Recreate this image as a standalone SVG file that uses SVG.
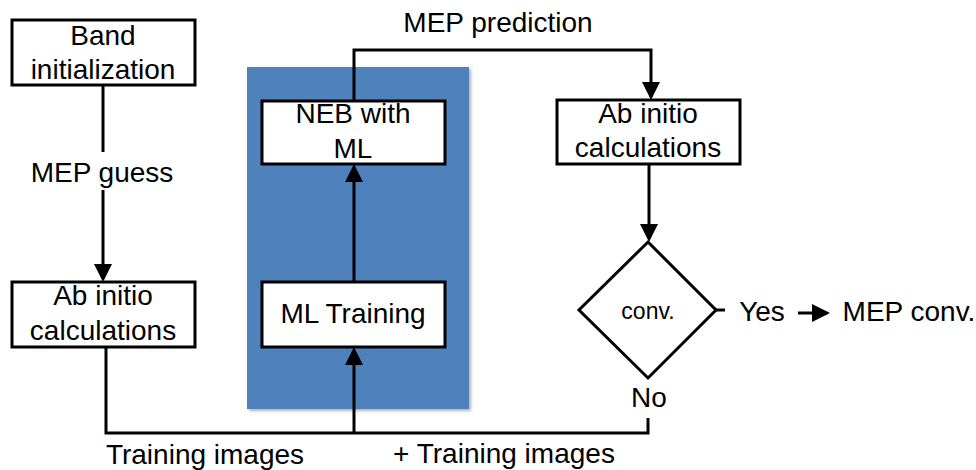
<svg xmlns="http://www.w3.org/2000/svg" width="976" height="470" viewBox="0 0 976 470">
<style>
text{font-family:"Liberation Sans",Arial,sans-serif;font-size:28px;fill:#000;text-anchor:middle}
.box{fill:#fff;stroke:#000;stroke-width:3}
.ln{fill:none;stroke:#000;stroke-width:3}
.sm{font-size:23px}
</style>
<defs>
<marker id="ah" markerWidth="6" markerHeight="6" refX="5" refY="3" orient="auto" markerUnits="strokeWidth">
<path d="M0,0 L6,3 L0,6 Z" fill="#000"/>
</marker>
<filter id="sh" x="-5%" y="-5%" width="115%" height="115%">
<feDropShadow dx="2" dy="2" stdDeviation="1.5" flood-color="#000" flood-opacity="0.3"/>
</filter>
</defs>
<rect x="247" y="67" width="222" height="342" fill="#4F81BD" filter="url(#sh)"/>
<g id="connectors">
<path class="ln" d="M103,85 V152"/>
<path class="ln" d="M103,190 V279" marker-end="url(#ah)"/>
<path class="ln" d="M106,347 V433 H648 V418"/>
<path class="ln" d="M354,433 V350" marker-end="url(#ah)"/>
<path class="ln" d="M354,282 V167" marker-end="url(#ah)"/>
<path class="ln" d="M354,101 V50 H651 V97" marker-end="url(#ah)"/>
<path class="ln" d="M649,164 V239" marker-end="url(#ah)"/>
<path class="ln" d="M716,310 H725"/>
<path class="ln" d="M798,313 H827" marker-end="url(#ah)"/>
</g>
<g id="band-init">
<rect class="box" x="12" y="20" width="183" height="65"/>
<text x="103" y="45">Band</text>
<text x="103" y="79">initialization</text>
</g>
<text x="102" y="182">MEP guess</text>
<g id="abinitio-1">
<rect class="box" x="12" y="282" width="183" height="65"/>
<text x="103" y="305">Ab initio</text>
<text x="103" y="340">calculations</text>
</g>
<g id="neb-ml">
<rect class="box" x="262" y="101" width="183" height="63"/>
<text x="353" y="123">NEB with</text>
<text x="353" y="158">ML</text>
</g>
<g id="ml-training">
<rect class="box" x="262" y="282" width="183" height="65"/>
<text x="353" y="323">ML Training</text>
</g>
<text x="498" y="32">MEP prediction</text>
<g id="abinitio-2">
<rect class="box" x="557" y="100" width="183" height="64"/>
<text x="648" y="123">Ab initio</text>
<text x="648" y="157">calculations</text>
</g>
<g id="conv">
<path class="box" d="M648,242 L716,310 L648,378 L579,310 Z"/>
<text class="sm" x="648" y="319">conv.</text>
</g>
<text x="762" y="321">Yes</text>
<text x="909" y="321">MEP conv.</text>
<text x="649" y="407">No</text>
<text x="205" y="464">Training images</text>
<text x="504" y="463">+ Training images</text>
</svg>
